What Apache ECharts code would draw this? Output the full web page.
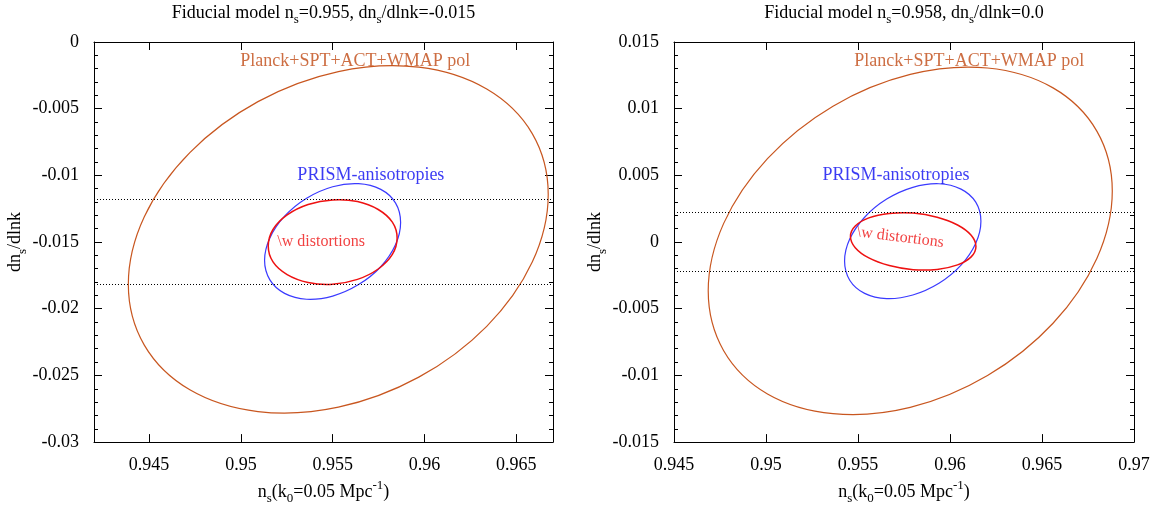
<!DOCTYPE html>
<html><head><meta charset="utf-8">
<script src="https://cdn.jsdelivr.net/npm/echarts@6/dist/echarts.min.js"></script>
<style>html,body{margin:0;padding:0;background:#fff}#c{width:1164px;height:510px}</style>
</head><body><div id="c"></div>
<script>
const FONT = 'Liberation Serif';

// ---- axis ranges & tick labels ----
const leftXRange = [0.942, 0.967];
const leftYRange = [-0.03, 0];
const rightXRange = [0.945, 0.97];
const rightYRange = [-0.015, 0.015];
const leftXTicks = [0.945, 0.95, 0.955, 0.96, 0.965];
const rightXTicks = [0.945, 0.95, 0.955, 0.96, 0.965, 0.97];
const yTickStep = 0.005;

// ---- titles / names ----
const leftTitle = '{n|Fiducial model n}{s|s}{n|=0.955, dn}{s|s}{n|/dlnk=-0.015}';
const rightTitle = '{n|Fiducial model n}{s|s}{n|=0.958, dn}{s|s}{n|/dlnk=0.0}';
const xName = '{n|n}{s|s}{n|(k}{s|0}{n|=0.05 Mpc}{p|-1}{n|)}';
const yName = '{n|dn}{s|s}{n|/dlnk}';

// ---- horizontal dotted lines (y values) ----
const leftDotted = [-0.0118, -0.0182];
const rightDotted = [0.0022, -0.0022];

// ---- contour points [ns, dns/dlnk] ----
const leftPlanck = [[0.96674,-0.01143],[0.96587,-0.00687],[0.96339,-0.00353],[0.95969,-0.00189],[0.95531,-0.00222],[0.95093,-0.00447],[0.94722,-0.00829],[0.94474,-0.01310],[0.94387,-0.01817],[0.94474,-0.02273],[0.94722,-0.02608],[0.95093,-0.02771],[0.95531,-0.02738],[0.95969,-0.02513],[0.96339,-0.02132],[0.96587,-0.01650]];
const leftPrism = [[0.95870,-0.01353],[0.95842,-0.01206],[0.95762,-0.01105],[0.95641,-0.01062],[0.95500,-0.01085],[0.95358,-0.01171],[0.95238,-0.01306],[0.95158,-0.01470],[0.95129,-0.01637],[0.95158,-0.01784],[0.95238,-0.01885],[0.95358,-0.01929],[0.95500,-0.01905],[0.95641,-0.01819],[0.95762,-0.01685],[0.95842,-0.01521]];
const leftMuW = [[0.95851,-0.01470],[0.95825,-0.01351],[0.95748,-0.01256],[0.95635,-0.01196],[0.95500,-0.01184],[0.95366,-0.01219],[0.95252,-0.01297],[0.95175,-0.01406],[0.95149,-0.01530],[0.95175,-0.01649],[0.95252,-0.01744],[0.95366,-0.01803],[0.95500,-0.01816],[0.95635,-0.01780],[0.95748,-0.01702],[0.95825,-0.01593]];
const rightPlanck = [[0.96882,0.00383],[0.96798,0.00832],[0.96560,0.01156],[0.96204,0.01305],[0.95784,0.01257],[0.95364,0.01019],[0.95008,0.00626],[0.94770,0.00140],[0.94686,-0.00366],[0.94770,-0.00815],[0.95008,-0.01139],[0.95364,-0.01287],[0.95784,-0.01240],[0.96204,-0.01001],[0.96560,-0.00609],[0.96798,-0.00123]];
const rightPrism = [[0.96168,0.00156],[0.96140,0.00299],[0.96060,0.00397],[0.95940,0.00437],[0.95798,0.00410],[0.95656,0.00322],[0.95536,0.00186],[0.95455,0.00022],[0.95427,-0.00143],[0.95455,-0.00286],[0.95536,-0.00385],[0.95656,-0.00424],[0.95798,-0.00397],[0.95940,-0.00309],[0.96060,-0.00173],[0.96140,-0.00009]];
const rightMuW = [[0.96141,-0.00033],[0.96115,0.00051],[0.96041,0.00128],[0.95930,0.00186],[0.95800,0.00217],[0.95670,0.00214],[0.95559,0.00181],[0.95485,0.00120],[0.95459,0.00042],[0.95485,-0.00042],[0.95559,-0.00119],[0.95670,-0.00176],[0.95800,-0.00207],[0.95930,-0.00205],[0.96041,-0.00171],[0.96115,-0.00111]];

// ---- annotation labels ----
const leftLabels = [
  {name: 'Planck+SPT+ACT+WMAP pol', value: [0.95623, -0.00145], c: 'orange', rot: 0},
  {name: 'PRISM-anisotropies', value: [0.95708, -0.01001], c: 'blue', rot: 0},
  {name: '\\w distortions', value: [0.95437, -0.01501], c: 'red', rot: 0}
];
const rightLabels = [
  {name: 'Planck+SPT+ACT+WMAP pol', value: [0.96105, 0.01355], c: 'orange', rot: 0},
  {name: 'PRISM-anisotropies', value: [0.95707, 0.00499], c: 'blue', rot: 0},
  {name: '\\w distortions', value: [0.95730, 0.00035], c: 'red', rot: -7}
];

const COLORS = {orange: '#c8561f', blue: '#3a3aff', red: '#ee1111'};
const TEXTCOL = {orange: '#c04a14', blue: '#0a0af0', red: '#ee1111'};

const rich = {
  n: {fontFamily: FONT, fontSize: 18, lineHeight: 20, padding: [4, 0, 0, 0], verticalAlign: 'top', color: '#000', fill: '#000'},
  s: {fontFamily: FONT, fontSize: 13, lineHeight: 14, padding: [13, 0, 0, 0], verticalAlign: 'top', color: '#000', fill: '#000'},
  p: {fontFamily: FONT, fontSize: 13, lineHeight: 14, padding: [0, 0, 0, 0], verticalAlign: 'top', color: '#000', fill: '#000'}
};

const fmt = v => String(+(+v).toFixed(4));

function xAx(grid, range, ticks, pos, main) {
  return {
    type: 'value', gridIndex: grid, position: pos, min: range[0], max: range[1],
    axisLine: {show: true, onZero: false, lineStyle: {color: '#000', width: 1}},
    axisTick: {show: true, inside: true, length: 8, lineStyle: {color: '#000', width: 1}, customValues: ticks},
    axisLabel: {show: main, customValues: ticks, margin: 14, fontFamily: FONT, fontSize: 18, color: '#000', formatter: fmt},
    splitLine: {show: false}, minorTick: {show: false},
    name: main ? xName : '', nameLocation: 'middle', nameGap: 33,
    nameTextStyle: {rich: rich, fontFamily: FONT, fontSize: 18, color: '#000'}
  };
}
function yAx(grid, range, pos, main) {
  return {
    type: 'value', gridIndex: grid, position: pos, min: range[0], max: range[1], interval: yTickStep,
    axisLine: {show: true, onZero: false, lineStyle: {color: '#000', width: 1}},
    axisTick: {show: true, inside: true, length: 8, lineStyle: {color: '#000', width: 1}},
    minorTick: {show: true, splitNumber: 5, length: 4, lineStyle: {color: '#000', width: 1}},
    axisLabel: {show: main, margin: 15, fontFamily: FONT, fontSize: 18, color: '#000', formatter: fmt},
    splitLine: {show: false}, minorSplitLine: {show: false},
    name: main ? yName : '', nameLocation: 'middle', nameGap: 64, nameRotate: 90,
    nameTextStyle: {rich: rich, fontFamily: FONT, fontSize: 18, color: '#000'}
  };
}

function contour(pts, xi, yi, color, width, z) {
  return {
    type: 'custom', xAxisIndex: xi, yAxisIndex: yi, data: pts, z: z, silent: true,
    renderItem: function (params, api) {
      if (params.dataIndex !== 0) return null;
      return {
        type: 'polygon',
        shape: {points: pts.map(p => api.coord(p)), smooth: 0.35},
        style: {fill: 'none', stroke: color, lineWidth: width}
      };
    }
  };
}

function labelSeries(labels, xi, yi, dotted) {
  return {
    type: 'scatter', xAxisIndex: xi, yAxisIndex: yi, symbolSize: 1, z: 10, silent: true,
    itemStyle: {color: 'rgba(0,0,0,0)'},
    data: labels.map(l => ({
      name: l.name, value: l.value,
      label: {show: true, position: 'inside', formatter: '{b}', rotate: l.rot,
        color: TEXTCOL[l.c], fontFamily: FONT, fontSize: l.c === 'red' ? 16 : 18}
    })),
    markLine: {
      silent: true, symbol: ['none', 'none'], label: {show: false}, precision: 6,
      lineStyle: {type: [1, 2], color: '#000', width: 1},
      emphasis: {disabled: true},
      data: dotted.map(v => ({yAxis: v}))
    }
  };
}

const chart = echarts.init(document.getElementById('c'));
chart.setOption({
  animation: false,
  backgroundColor: '#fff',
  grid: [
    {left: 94, top: 42, width: 459, height: 401},
    {left: 674, top: 42, width: 460, height: 401}
  ],
  xAxis: [
    xAx(0, leftXRange, leftXTicks, 'bottom', true),
    xAx(0, leftXRange, leftXTicks, 'top', false),
    xAx(1, rightXRange, rightXTicks, 'bottom', true),
    xAx(1, rightXRange, rightXTicks, 'top', false)
  ],
  yAxis: [
    yAx(0, leftYRange, 'left', true),
    yAx(0, leftYRange, 'right', false),
    yAx(1, rightYRange, 'left', true),
    yAx(1, rightYRange, 'right', false)
  ],
  graphic: [
    {type: 'text', x: 323.5, y: 0, silent: true, style: {text: leftTitle, rich: rich, align: 'center', verticalAlign: 'top', fontFamily: FONT, fontSize: 18, fill: '#000'}},
    {type: 'text', x: 904, y: 0, silent: true, style: {text: rightTitle, rich: rich, align: 'center', verticalAlign: 'top', fontFamily: FONT, fontSize: 18, fill: '#000'}}
  ],
  series: [
    contour(leftPlanck, 0, 0, COLORS.orange, 1.2, 2),
    contour(leftPrism, 0, 0, COLORS.blue, 1.2, 3),
    contour(leftMuW, 0, 0, COLORS.red, 1.5, 4),
    labelSeries(leftLabels, 0, 0, leftDotted),
    contour(rightPlanck, 2, 2, COLORS.orange, 1.2, 2),
    contour(rightPrism, 2, 2, COLORS.blue, 1.2, 3),
    contour(rightMuW, 2, 2, COLORS.red, 1.5, 4),
    labelSeries(rightLabels, 2, 2, rightDotted)
  ]
});
</script></body></html>
